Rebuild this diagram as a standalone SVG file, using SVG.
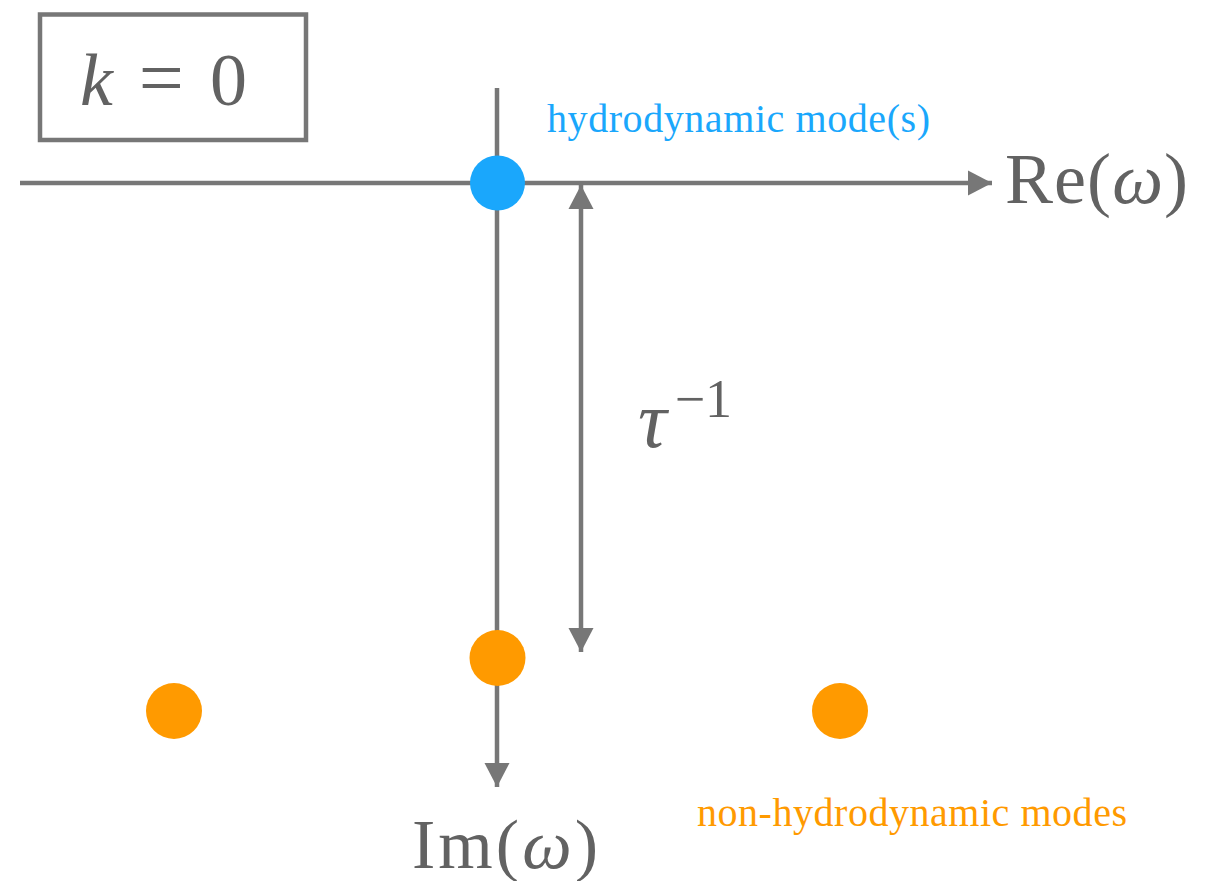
<svg xmlns="http://www.w3.org/2000/svg" width="1219" height="881" viewBox="0 0 1219 881">
<style>
.ax{stroke:#777;stroke-width:4.5;fill:none}
.m{font-family:"Liberation Serif","DejaVu Serif",serif;fill:#626262}
.hy{fill:#1aa7fc}
.nh{fill:#ff9a00}
.lbl{font-family:"Liberation Serif","DejaVu Serif",serif;font-size:40px}
</style>
<defs>
<marker id="ah" markerUnits="userSpaceOnUse" markerWidth="26" markerHeight="26" viewBox="0 0 26 26" refX="24" refY="13" orient="auto-start-reverse">
<path d="M0,0.5 L24,13 L0,25.5 Z" fill="#777"/>
</marker>
</defs>
<g id="k-box">
<rect x="40" y="14.5" width="266" height="125.5" fill="#fff" stroke="#777" stroke-width="4.5"/>
<text class="m" x="80" y="105" font-size="74"><tspan font-style="italic">k</tspan><tspan dx="26" font-size="80">=</tspan><tspan dx="26">0</tspan></text>
</g>
<g id="connectors">
<line class="ax" x1="20" y1="183" x2="992" y2="183" marker-end="url(#ah)"/>
<line class="ax" x1="497" y1="88" x2="497" y2="787" marker-end="url(#ah)"/>
<line class="ax" x1="581" y1="185" x2="581" y2="652" marker-start="url(#ah)" marker-end="url(#ah)"/>
</g>
<g id="re-label"><text class="m" x="1005" y="203" font-size="72" textLength="183">Re(<tspan font-style="italic">ω</tspan>)</text></g>
<g id="im-label"><text class="m" x="412" y="868" font-size="70" textLength="186">Im(<tspan font-style="italic">ω</tspan>)</text></g>
<g id="tau-label"><text class="m" x="638" y="447" font-size="80"><tspan font-style="italic">τ</tspan><tspan font-size="54" dx="8" dy="-30">−1</tspan></text></g>
<g id="hydro-mode">
<circle class="hy" cx="497.5" cy="183" r="27.5"/>
<text class="lbl hy" x="547" y="132" textLength="383">hydrodynamic mode(s)</text>
</g>
<g id="nonhydro-center"><circle class="nh" cx="497.5" cy="658" r="28"/></g>
<g id="nonhydro-left"><circle class="nh" cx="174" cy="711" r="28"/></g>
<g id="nonhydro-right"><circle class="nh" cx="840" cy="711" r="28"/></g>
<g id="nonhydro-label"><text class="lbl nh" x="697" y="826" textLength="430">non-hydrodynamic modes</text></g>
</svg>
